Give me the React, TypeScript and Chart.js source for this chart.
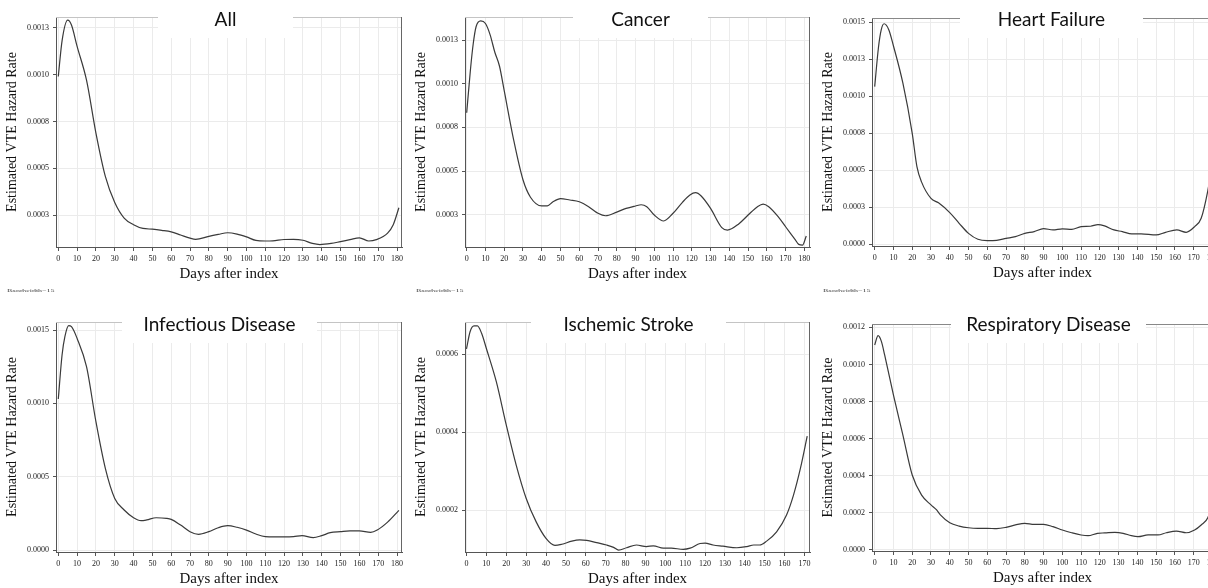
import React, { useEffect, useRef } from 'react';
import { Chart, registerables } from 'chart.js';

Chart.register(...registerables);

// ---------------- data ----------------
const dayTicks180 = [0, 10, 20, 30, 40, 50, 60, 70, 80, 90, 100, 110, 120, 130, 140, 150, 160, 170, 180];
const dayTicks170 = [0, 10, 20, 30, 40, 50, 60, 70, 80, 90, 100, 110, 120, 130, 140, 150, 160, 170];

const quarterTickValues = [0.00025, 0.0005, 0.00075, 0.001, 0.00125];
const quarterTickLabels = ['0.0003', '0.0005', '0.0008', '0.0010', '0.0013'];
const hfTickValues = [0, 0.00025, 0.0005, 0.00075, 0.001, 0.00125, 0.0015];
const hfTickLabels = ['0.0000', '0.0003', '0.0005', '0.0008', '0.0010', '0.0013', '0.0015'];
const infTickValues = [0, 0.0005, 0.001, 0.0015];
const infTickLabels = ['0.0000', '0.0005', '0.0010', '0.0015'];
const isTickValues = [0.0002, 0.0004, 0.0006];
const isTickLabels = ['0.0002', '0.0004', '0.0006'];
const rdTickValues = [0, 0.0002, 0.0004, 0.0006, 0.0008, 0.001, 0.0012];
const rdTickLabels = ['0.0000', '0.0002', '0.0004', '0.0006', '0.0008', '0.0010', '0.0012'];

const panelTitles = ['All', 'Cancer', 'Heart Failure', 'Infectious Disease', 'Ischemic Stroke', 'Respiratory Disease'];
const xAxisTitle = 'Days after index';
const yAxisTitle = 'Estimated VTE Hazard Rate';
const footnoteText = 'Bandwidth=15';

const allDays = [0, 2, 5, 7, 10, 15, 20, 25, 30, 35, 40, 45, 50, 55, 60, 65, 70, 73, 80, 85, 90, 95, 100, 105, 110, 114, 120, 125, 130, 135, 139, 145, 150, 155, 160, 165, 169, 175, 178, 181];
const allRates = [0.00099, 0.00118, 0.00129, 0.001264, 0.00115, 0.00097, 0.000688, 0.000457, 0.000318, 0.000235, 0.0002, 0.00018, 0.000176, 0.00017, 0.000162, 0.000145, 0.000128, 0.000122, 0.000138, 0.000148, 0.000157, 0.00015, 0.000135, 0.000116, 0.000113, 0.000114, 0.000121, 0.000122, 0.000117, 0.0001, 0.000094, 0.0001, 0.00011, 0.00012, 0.00013, 0.000113, 0.00012, 0.000155, 0.0002, 0.00029];

const cancerDays = [0, 2, 3.5, 5, 7.5, 10, 12.5, 15, 17.5, 20, 25, 30, 34, 40, 43, 46, 50, 55, 60, 65, 70, 74, 80, 85, 90, 93, 96, 100, 105, 110, 115, 119, 122, 125, 130, 136, 139, 145, 150, 155, 158, 161, 166, 170, 175, 177, 179, 181];
const cancerRates = [0.000834, 0.00108, 0.00123, 0.001326, 0.00136, 0.001345, 0.00128, 0.00118, 0.0011, 0.00096, 0.00068, 0.00045, 0.00035, 0.0003, 0.0003, 0.000324, 0.000342, 0.000334, 0.000324, 0.000296, 0.000258, 0.000244, 0.000265, 0.000286, 0.0003, 0.000307, 0.000296, 0.000248, 0.000214, 0.000258, 0.000321, 0.000363, 0.000376, 0.000357, 0.000286, 0.000176, 0.000162, 0.000197, 0.000248, 0.000296, 0.000311, 0.000296, 0.000239, 0.000181, 0.000109, 0.00008, 0.000076, 0.000128];

const hfDays = [0, 2, 3.5, 5, 7.5, 10, 15, 20, 22.5, 25, 30, 34, 40, 45, 50, 55, 60, 65, 70, 75, 80, 85, 90, 95, 100, 105, 110, 115, 119, 122.5, 127.5, 132, 137, 142, 150, 155, 161, 166, 170.5, 174, 177.5, 180];
const hfRates = [0.001065, 0.00133, 0.00145, 0.00149, 0.00145, 0.00134, 0.00109, 0.00075, 0.000525, 0.00042, 0.00031, 0.00028, 0.000214, 0.000142, 0.000074, 0.000034, 0.000025, 0.000027, 0.00004, 0.000052, 0.000074, 0.000086, 0.000106, 0.000097, 0.000104, 0.000101, 0.000119, 0.000122, 0.000133, 0.000124, 0.000097, 0.000086, 0.00007, 0.00007, 0.000063, 0.000081, 0.000097, 0.000081, 0.000119, 0.000176, 0.00036, 0.00055];

const infDays = [0, 2, 3.5, 5.5, 7, 10, 15, 20, 25, 30, 35, 40, 44, 47, 52, 57.5, 60, 65, 70, 74.5, 80, 85, 90, 95, 100, 105, 110, 115, 120, 125, 129.5, 135.5, 140, 144.5, 150, 155, 160, 166, 169.5, 175, 181];
const infRates = [0.00103, 0.00133, 0.001455, 0.00153, 0.001523, 0.001443, 0.00125, 0.000875, 0.000557, 0.000352, 0.000273, 0.00022, 0.0002, 0.000205, 0.00022, 0.000216, 0.000209, 0.00017, 0.000125, 0.000107, 0.000125, 0.000152, 0.000166, 0.000155, 0.000136, 0.000109, 0.000091, 0.000089, 0.000089, 0.000091, 0.000098, 0.000084, 0.000098, 0.000118, 0.000125, 0.00013, 0.00013, 0.00012, 0.000136, 0.00019, 0.00027];

const isDays = [0, 1.8, 3.8, 5.5, 7.6, 10, 15, 20, 25, 30, 35, 40, 44.5, 48, 53, 57, 60.5, 65.5, 70.5, 74, 76.5, 80.5, 85.5, 90.5, 94, 99, 103, 109, 112.5, 117.5, 120, 124, 129, 136, 141, 144.5, 147.5, 151, 156, 161, 164.5, 168, 171.4];
const isRates = [0.000614, 0.000658, 0.000673, 0.000673, 0.000654, 0.000615, 0.00053, 0.000419, 0.000316, 0.000231, 0.000171, 0.000128, 0.00011, 0.000113, 0.000121, 0.000124, 0.000123, 0.000117, 0.000111, 0.000105, 0.000098, 0.000104, 0.000111, 0.000107, 0.000109, 0.000103, 0.000103, 0.0001, 0.000103, 0.000115, 0.000116, 0.000111, 0.000108, 0.000104, 0.000107, 0.000111, 0.000111, 0.000121, 0.000145, 0.000188, 0.000239, 0.000308, 0.00039];

const rdDays = [0, 1.8, 3.6, 5.3, 10, 15, 20, 25, 30, 33, 35, 40, 45, 50, 55, 60, 65, 70, 75, 80, 85, 90, 95, 100, 105, 110, 113.7, 118.7, 122.6, 128, 132.4, 136.8, 140.3, 145.7, 151, 155.4, 160.8, 166, 170.5, 174, 177.6, 180];
const rdRates = [0.001105, 0.001155, 0.001123, 0.001051, 0.000835, 0.00062, 0.000404, 0.000296, 0.000243, 0.000216, 0.000189, 0.000147, 0.000129, 0.00012, 0.000117, 0.000117, 0.000115, 0.000122, 0.000135, 0.000144, 0.000138, 0.000138, 0.000126, 0.000108, 0.000093, 0.000081, 0.000077, 0.00009, 0.000092, 0.000095, 0.00009, 0.000077, 0.000072, 0.000081, 0.000081, 0.000093, 0.000102, 0.000093, 0.000108, 0.000135, 0.000175, 0.00026];

// ---------------- layout (page pixels) ----------------
type Layout = {
  L: number; T: number; R: number; B: number;
  xMin: number; xMax: number; yMin: number; yMax: number;
  boxL: number; boxR: number; boxBottom: number; titleBaseline: number;
  topColor: string; footnote: boolean;
};

type PanelSpec = {
  title: string;
  days: number[];
  rates: number[];
  xTicks: number[];
  yTicks: number[];
  yLabels: string[];
  layout: Layout;
};

const panels: PanelSpec[] = [
  {
    title: panelTitles[0], days: allDays, rates: allRates, xTicks: dayTicks180,
    yTicks: quarterTickValues, yLabels: quarterTickLabels,
    layout: { L: 56, T: 17, R: 402, B: 247, xMin: -1.22, xMax: 182.65, yMin: 0.000081, yMax: 0.001307,
      boxL: 158, boxR: 293, boxBottom: 38, titleBaseline: 26, topColor: '#c4c4c4', footnote: true },
  },
  {
    title: panelTitles[1], days: cancerDays, rates: cancerRates, xTicks: dayTicks180,
    yTicks: quarterTickValues, yLabels: quarterTickLabels,
    layout: { L: 465, T: 17, R: 810, B: 247, xMin: -0.9, xMax: 183.0, yMin: 0.000065, yMax: 0.001382,
      boxL: 573, boxR: 708, boxBottom: 38, titleBaseline: 26, topColor: '#c4c4c4', footnote: true },
  },
  {
    title: panelTitles[2], days: hfDays, rates: hfRates, xTicks: dayTicks180,
    yTicks: hfTickValues, yLabels: hfTickLabels,
    layout: { L: 872, T: 18, R: 1213, B: 246, xMin: -1.44, xMax: 180.3, yMin: -0.0000115, yMax: 0.001529,
      boxL: 960, boxR: 1143, boxBottom: 38, titleBaseline: 26, topColor: '#888888', footnote: true },
  },
  {
    title: panelTitles[3], days: infDays, rates: infRates, xTicks: dayTicks180,
    yTicks: infTickValues, yLabels: infTickLabels,
    layout: { L: 56, T: 322, R: 402, B: 552, xMin: -1.22, xMax: 182.65, yMin: -0.0000136, yMax: 0.001555,
      boxL: 122, boxR: 317, boxBottom: 343, titleBaseline: 331, topColor: '#c4c4c4', footnote: false },
  },
  {
    title: panelTitles[4], days: isDays, rates: isRates, xTicks: dayTicks170,
    yTicks: isTickValues, yLabels: isTickLabels,
    layout: { L: 465, T: 322, R: 810, B: 552, xMin: -0.75, xMax: 172.8, yMin: 0.0000931, yMax: 0.000683,
      boxL: 531, boxR: 726, boxBottom: 343, titleBaseline: 331, topColor: '#c4c4c4', footnote: false },
  },
  {
    title: panelTitles[5], days: rdDays, rates: rdRates, xTicks: dayTicks180,
    yTicks: rdTickValues, yLabels: rdTickLabels,
    layout: { L: 872, T: 324, R: 1213, B: 551, xMin: -1.44, xMax: 180.3, yMin: -0.0000054, yMax: 0.001218,
      boxL: 951, boxR: 1146, boxBottom: 343, titleBaseline: 331, topColor: '#888888', footnote: false },
  },
];

const Y_AXIS_W = 56;
const X_AXIS_H = 36;
const PAD = { left: 0, top: 10, right: 12, bottom: 12 };

function HazardPanel({ spec }: { spec: PanelSpec }) {
  const ref = useRef<HTMLCanvasElement>(null);
  const { L, T, R, B } = spec.layout;
  const cLeft = L - Y_AXIS_W - PAD.left;
  const cTop = T - PAD.top;
  const cW = R - L + Y_AXIS_W + PAD.left + PAD.right;
  const cH = B - T + X_AXIS_H + PAD.top + PAD.bottom;

  useEffect(() => {
    const lay = spec.layout;
    const overlay = {
      id: 'panelOverlay',
      afterDraw(chart: any) {
        const { ctx, chartArea: a } = chart;
        ctx.save();
        ctx.lineWidth = 1;
        ctx.strokeStyle = lay.topColor;
        ctx.beginPath();
        ctx.moveTo(a.left, a.top + 0.5);
        ctx.lineTo(a.right, a.top + 0.5);
        ctx.stroke();
        ctx.strokeStyle = '#666666';
        ctx.beginPath();
        ctx.moveTo(a.right - 0.5, a.top);
        ctx.lineTo(a.right - 0.5, a.bottom);
        ctx.stroke();

        const bx0 = lay.boxL - cLeft;
        const bx1 = lay.boxR - cLeft;
        const by0 = a.top - 8;
        const by1 = lay.boxBottom - cTop;
        ctx.fillStyle = '#ffffff';
        ctx.fillRect(bx0, by0, bx1 - bx0, by1 - by0);
        ctx.fillStyle = '#111111';
        ctx.font = '19px Lato';
        ctx.textAlign = 'center';
        ctx.textBaseline = 'alphabetic';
        ctx.fillText(spec.title, (bx0 + bx1) / 2, lay.titleBaseline - cTop);

        if (lay.footnote) {
          ctx.translate(L - 49 - cLeft, 291 - cTop);
          ctx.scale(1, 0.55);
          ctx.fillStyle = '#444444';
          ctx.font = '8px "Liberation Serif"';
          ctx.textAlign = 'left';
          ctx.textBaseline = 'middle';
          ctx.fillText(footnoteText, 0, 0);
        }
        ctx.restore();
      },
    };

    const chart = new Chart(ref.current as HTMLCanvasElement, {
      type: 'line',
      data: {
        datasets: [
          {
            data: spec.days.map((d, i) => ({ x: d, y: spec.rates[i] })),
            borderColor: '#3a3a3a',
            borderWidth: 1.2,
            pointRadius: 0,
            fill: false,
            cubicInterpolationMode: 'monotone',
          },
        ],
      },
      options: {
        animation: false,
        responsive: false,
        devicePixelRatio: 1,
        events: [],
        layout: { padding: PAD },
        plugins: { legend: { display: false }, tooltip: { enabled: false }, title: { display: false } },
        scales: {
          x: {
            type: 'linear',
            min: lay.xMin,
            max: lay.xMax,
            afterBuildTicks: (scale: any) => {
              scale.ticks = spec.xTicks.map((v) => ({ value: v }));
            },
            afterFit: (scale: any) => {
              scale.height = X_AXIS_H;
            },
            ticks: {
              autoSkip: false,
              maxRotation: 0,
              minRotation: 0,
              padding: 3,
              color: '#222222',
              font: { family: '"Liberation Serif"', size: 8 },
              callback: (v: any) => String(v),
            },
            grid: { color: '#ebebeb', lineWidth: 1, drawTicks: true, tickLength: 4, tickColor: '#555555', tickWidth: 1 },
            border: { display: true, color: '#555555', width: 1 },
            title: {
              display: true,
              text: xAxisTitle,
              color: '#111111',
              font: { family: '"Liberation Serif"', size: 15 },
              padding: { top: 0, bottom: 0 },
            },
          },
          y: {
            type: 'linear',
            min: lay.yMin,
            max: lay.yMax,
            afterBuildTicks: (scale: any) => {
              scale.ticks = spec.yTicks.map((v) => ({ value: v }));
            },
            afterFit: (scale: any) => {
              scale.width = Y_AXIS_W;
            },
            ticks: {
              autoSkip: false,
              padding: 4,
              color: '#222222',
              font: { family: '"Liberation Serif"', size: 8 },
              callback: (_v: any, i: number) => spec.yLabels[i],
            },
            grid: { color: '#ebebeb', lineWidth: 1, drawTicks: true, tickLength: 3, tickColor: '#555555', tickWidth: 1 },
            border: { display: true, color: '#555555', width: 1 },
            title: {
              display: true,
              text: yAxisTitle,
              color: '#111111',
              font: { family: '"Liberation Serif"', size: 14 },
              padding: { top: 4, bottom: 0 },
            },
          },
        },
      } as any,
      plugins: [overlay],
    });
    return () => chart.destroy();
  }, []);

  return (
    <canvas
      ref={ref}
      width={cW}
      height={cH}
      style={{ position: 'absolute', left: cLeft, top: cTop, width: cW, height: cH }}
    />
  );
}

export default function App() {
  return (
    <div
      style={{
        position: 'absolute',
        left: 0,
        top: 0,
        width: 1208,
        height: 588,
        overflow: 'hidden',
        background: '#ffffff',
      }}
    >
      {panels.map((p) => (
        <HazardPanel key={p.title} spec={p} />
      ))}
    </div>
  );
}
